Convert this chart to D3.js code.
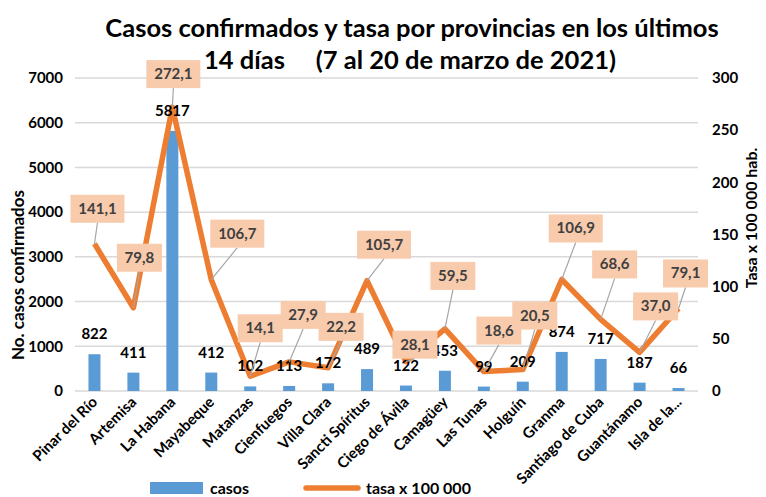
<!DOCTYPE html>
<html>
<head>
<meta charset="utf-8">
<script src="https://cdn.jsdelivr.net/npm/d3@7"></script>
<style>
  body { margin: 0; background: #fff; }
  text { font-family: Lato, "Noto Sans", sans-serif; }
</style>
</head>
<body>
<script>
var provincias = ["Pinar del Río","Artemisa","La Habana","Mayabeque","Matanzas","Cienfuegos","Villa Clara","Sancti Spíritus","Ciego de Ávila","Camagüey","Las Tunas","Holguín","Granma","Santiago de Cuba","Guantánamo","Isla de la..."];
var casos = [822,411,5817,412,102,113,172,489,122,453,99,209,874,717,187,66];
var tasa = [141.1,79.8,272.1,106.7,14.1,27.9,22.2,105.7,28.1,59.5,18.6,20.5,106.9,68.6,37.0,79.1];
var tasaTexto = ["141,1","79,8","272,1","106,7","14,1","27,9","22,2","105,7","28,1","59,5","18,6","20,5","106,9","68,6","37,0","79,1"];
var ticksCasos = [0,1000,2000,3000,4000,5000,6000,7000];
var ticksTasa = [0,50,100,150,200,250,300];

// where each tasa label box sits relative to its point
var labelDx = [3,6,1,26,10,14,13,17,9,8,15,12,14,14,16,7];
var labelDy = [-35,-50,-33,-46,-48,-47,-41,-36,-17,-53,-41,-54,-51,-55,-46,-35];

var width = 766, height = 497;
var margin = {left:75, right:68, top:78, bottom:106};

var svg = d3.select("body").append("svg").attr("width",width).attr("height",height);

var x = d3.scaleBand().domain(provincias).range([margin.left, width-margin.right]);
var y = d3.scaleLinear().domain([0,7000]).range([height-margin.bottom, margin.top]);
var y2 = d3.scaleLinear().domain([0,300]).range([height-margin.bottom, margin.top]);

// grid
svg.append("g").selectAll("line").data(ticksCasos).join("line")
    .attr("x1",margin.left).attr("x2",width-margin.right)
    .attr("y1",function(d){return y(d);}).attr("y2",function(d){return y(d);})
    .attr("stroke","#d9d9d9").attr("stroke-width",1.5);

// axes
var yAxis = d3.axisLeft(y).tickValues(ticksCasos).tickFormat(d3.format("d")).tickSize(0).tickPadding(12);
var y2Axis = d3.axisRight(y2).tickValues(ticksTasa).tickFormat(d3.format("d")).tickSize(0).tickPadding(14);

var gy = svg.append("g").attr("transform","translate("+margin.left+",0)").call(yAxis);
var gy2 = svg.append("g").attr("transform","translate("+(width-margin.right)+",0)").call(y2Axis);
[gy,gy2].forEach(function(g){
  g.select(".domain").remove();
  g.selectAll("text").attr("font-family","Lato").attr("font-size",15).attr("font-weight","bold").attr("fill","#000");
});

// bars
var barW = 12;
svg.append("g").selectAll("rect").data(casos).join("rect")
    .attr("x",function(d,i){return x(provincias[i]) + x.bandwidth()/2 - barW/2;})
    .attr("y",function(d){return y(d);})
    .attr("width",barW)
    .attr("height",function(d){return y(0)-y(d);})
    .attr("fill","#5b9bd5");

// x labels
svg.append("g").selectAll("text").data(provincias).join("text")
    .attr("transform",function(d){return "translate("+(x(d)+x.bandwidth()/2+4)+","+(y(0)+12)+") rotate(-45)";})
    .attr("text-anchor","end")
    .attr("font-size",15)
    .attr("font-weight","bold")
    .attr("fill","#000")
    .text(function(d){return d;});

// line
var line = d3.line()
    .x(function(d,i){return x(provincias[i]) + x.bandwidth()/2;})
    .y(function(d){return y2(d);});
svg.append("path").attr("d",line(tasa))
    .attr("fill","none").attr("stroke","#ed7d31").attr("stroke-width",5.5)
    .attr("stroke-linejoin","round");

// bar value labels
svg.append("g").selectAll("text").data(casos).join("text")
    .attr("x",function(d,i){return x(provincias[i]) + x.bandwidth()/2;})
    .attr("y",function(d){return y(d) - 15;})
    .attr("text-anchor","middle")
    .attr("font-size",15).attr("font-weight","bold").attr("fill","#000")
    .text(function(d){return d;});

// tasa labels with leader lines
var lab = svg.append("g").selectAll("g").data(tasa).join("g");
lab.each(function(d,i){
  var g = d3.select(this);
  var px = x(provincias[i]) + x.bandwidth()/2, py = y2(d);
  var cx = px + labelDx[i], cy = py + labelDy[i];
  var w = tasaTexto[i].length > 4 ? 54 : 45, h = 28;
  g.append("line").attr("x1",px).attr("y1",py).attr("x2",cx).attr("y2",cy + h/2)
    .attr("stroke","#a6a6a6").attr("stroke-width",1.2);
  g.append("rect").attr("x",cx-w/2).attr("y",cy-h/2).attr("width",w).attr("height",h)
    .attr("fill","#f8cbad");
  g.append("text").attr("x",cx).attr("y",cy+5).attr("text-anchor","middle")
    .attr("font-size",15).attr("font-weight","bold").attr("fill","#404040")
    .text(tasaTexto[i]);
});

// titles
svg.append("text").attr("x",412).attr("y",37).attr("text-anchor","middle")
    .attr("font-size",25.5).attr("font-weight","bold").attr("fill","#000")
    .text("Casos confirmados y tasa por provincias en los últimos");
svg.append("text").attr("x",410).attr("y",69).attr("text-anchor","middle")
    .attr("font-size",25.5).attr("font-weight","bold").attr("fill","#000").attr("xml:space","preserve")
    .text("14 días     (7 al 20 de marzo de 2021)");

svg.append("text").attr("transform","translate(24,275) rotate(-90)").attr("text-anchor","middle")
    .attr("font-size",17).attr("font-weight","bold").attr("fill","#000")
    .text("No. casos confirmados");
svg.append("text").attr("transform","translate(757,218) rotate(-90)").attr("text-anchor","middle")
    .attr("font-size",16).attr("font-weight","bold").attr("fill","#000")
    .text("Tasa x 100 000 hab.");

// legend
var leg = svg.append("g");
leg.append("rect").attr("x",150).attr("y",482).attr("width",53).attr("height",12).attr("fill","#5b9bd5");
leg.append("text").attr("x",210).attr("y",494).attr("font-size",16).attr("font-weight","bold").text("casos");
leg.append("line").attr("x1",306).attr("x2",358).attr("y1",488).attr("y2",488)
    .attr("stroke","#ed7d31").attr("stroke-width",5.5).attr("stroke-linecap","round");
leg.append("text").attr("x",366).attr("y",494).attr("font-size",16).attr("font-weight","bold").text("tasa x 100 000");
</script>
</body>
</html>
